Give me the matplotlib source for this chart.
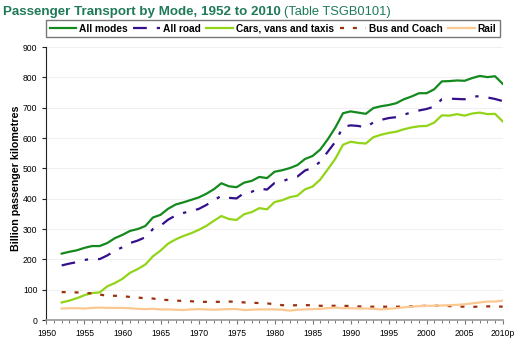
import matplotlib
matplotlib.use("Agg")
import matplotlib.pyplot as plt
from matplotlib.ticker import MultipleLocator

plt.rcParams['font.family'] = ['Liberation Sans', 'DejaVu Sans']

years = list(range(1952, 2011))

all_modes = [219, 225, 230, 238, 244, 244, 254, 270, 281, 294,
             300, 310, 338, 347, 367, 381, 388, 396, 404, 416,
             431, 451, 441, 438, 453, 459, 472, 468, 489, 494,
             501, 511, 531, 541, 562, 596, 635, 682, 688, 684,
             680, 699, 705, 709, 715, 728, 737, 748, 748, 761,
             787, 788, 790, 789, 798, 805, 801, 804, 779]

all_road = [180, 186, 191, 198, 202, 201, 213, 229, 240, 254,
            262, 273, 300, 311, 331, 345, 353, 360, 366, 379,
            394, 410, 403, 401, 419, 423, 434, 430, 452, 457,
            467, 473, 493, 502, 522, 555, 588, 637, 642, 640,
            635, 652, 660, 666, 669, 677, 685, 691, 696, 704,
            728, 730, 729, 728, 737, 738, 734, 729, 722]

cars = [58, 64, 72, 82, 89, 91, 111, 122, 136, 156,
        168, 183, 210, 229, 252, 266, 277, 286, 297, 310,
        327, 343, 333, 330, 349, 356, 369, 365, 389, 395,
        405, 410, 431, 440, 463, 497, 532, 578, 588, 584,
        582, 603, 611, 617, 621, 629, 635, 639, 640, 651,
        675, 674, 679, 674, 681, 684, 679, 680, 655]

bus = [92, 92, 91, 89, 88, 84, 80, 80, 79, 76,
       74, 72, 71, 67, 66, 64, 63, 62, 60, 60,
       60, 60, 61, 60, 58, 57, 56, 55, 52, 49,
       48, 49, 49, 49, 47, 47, 47, 47, 46, 45,
       44, 44, 44, 44, 44, 44, 45, 46, 47, 47,
       47, 46, 45, 44, 43, 45, 45, 45, 44]

rail = [38, 39, 39, 38, 40, 41, 40, 40, 40, 39,
        37, 36, 37, 35, 35, 34, 33, 35, 36, 35,
        34, 35, 36, 36, 33, 34, 35, 35, 35, 34,
        31, 34, 35, 36, 37, 39, 41, 39, 39, 38,
        38, 37, 35, 37, 39, 42, 44, 46, 47, 47,
        48, 49, 50, 52, 55, 58, 61, 61, 64]

x_ticks = [1950, 1955, 1960, 1965, 1970, 1975, 1980, 1985, 1990, 1995, 2000, 2005, 2010]
x_labels = ['1950', '1955', '1960', '1965', '1970', '1975', '1980', '1985',
            '1990', '1995', '2000', '2005', '2010p']

title_col = '#1f7a58'

fig = plt.figure(figsize=(5.28, 3.49), dpi=100)
ax = fig.add_axes([0.088, 0.083, 0.864, 0.782])

lw = 1.6
ax.plot(years, all_modes, color='#148a1e', lw=lw, label='All modes')
ax.plot(years, all_road, color='#35108c', lw=lw, label='All road',
        linestyle=(0, (6.2, 4.5, 1.5, 4.5)))
ax.plot(years, cars, color='#92d418', lw=lw, label='Cars, vans and taxis')
ax.plot(years, bus, color='#9c2f0c', lw=lw, label='Bus and Coach',
        linestyle=(0, (1.8, 4.0)))
ax.plot(years, rail, color='#fcc892', lw=lw, label='Rail')

ax.set_xlim(1950, 2010)
ax.set_ylim(0, 900)
ax.yaxis.set_major_locator(MultipleLocator(100))
ax.set_xticks(x_ticks)
ax.set_xticklabels(x_labels)
ax.xaxis.set_minor_locator(MultipleLocator(1))
ax.tick_params(axis='both', labelsize=6.2, colors='#222222', length=3, width=0.8)
ax.tick_params(axis='x', which='minor', length=2.5, width=0.7, colors='#777777')
ax.tick_params(axis='x', which='major', colors='#777777', labelcolor='black')
ax.tick_params(axis='y', labelcolor='black')

ax.grid(axis='y', color='#f0f0f0', lw=0.8)
ax.set_axisbelow(True)
for side in ['top', 'right']:
    ax.spines[side].set_visible(False)
ax.spines['left'].set_color('#222222')
ax.spines['bottom'].set_color('#999999')
ax.spines['bottom'].set_linewidth(1.2)

ax.set_ylabel('Billion passenger kilometres', fontsize=7.7, fontweight='bold')
ax.yaxis.set_label_coords(-0.056, 0.52)

leg = ax.legend(loc='upper left', bbox_to_anchor=(46 / 528, 1 - 20 / 349, 454 / 528, 0),
                bbox_transform=fig.transFigure, mode='expand', ncol=5,
                prop={'weight': 'bold', 'size': 7.3}, frameon=True, fancybox=False,
                shadow=False, handlelength=2.6, handletextpad=0.3, borderpad=0.35,
                columnspacing=0.8, borderaxespad=0)
leg.get_frame().set_edgecolor('#555555')
leg.get_frame().set_linewidth(1.0)

t1 = fig.text(3 / 528, 1 - 12 / 349, 'Passenger Transport by Mode, 1952 to 2010',
              fontsize=9.6, fontweight='bold', color=title_col, va='center', ha='left')
fig.canvas.draw()
bb = t1.get_window_extent(fig.canvas.get_renderer())
x_next = bb.x1 / fig.bbox.width + 3 / 528
fig.text(x_next, 1 - 12 / 349, '(Table TSGB0101)', fontsize=9.3, color=title_col,
         va='center', ha='left')

fig.savefig('out.png', dpi=100)
